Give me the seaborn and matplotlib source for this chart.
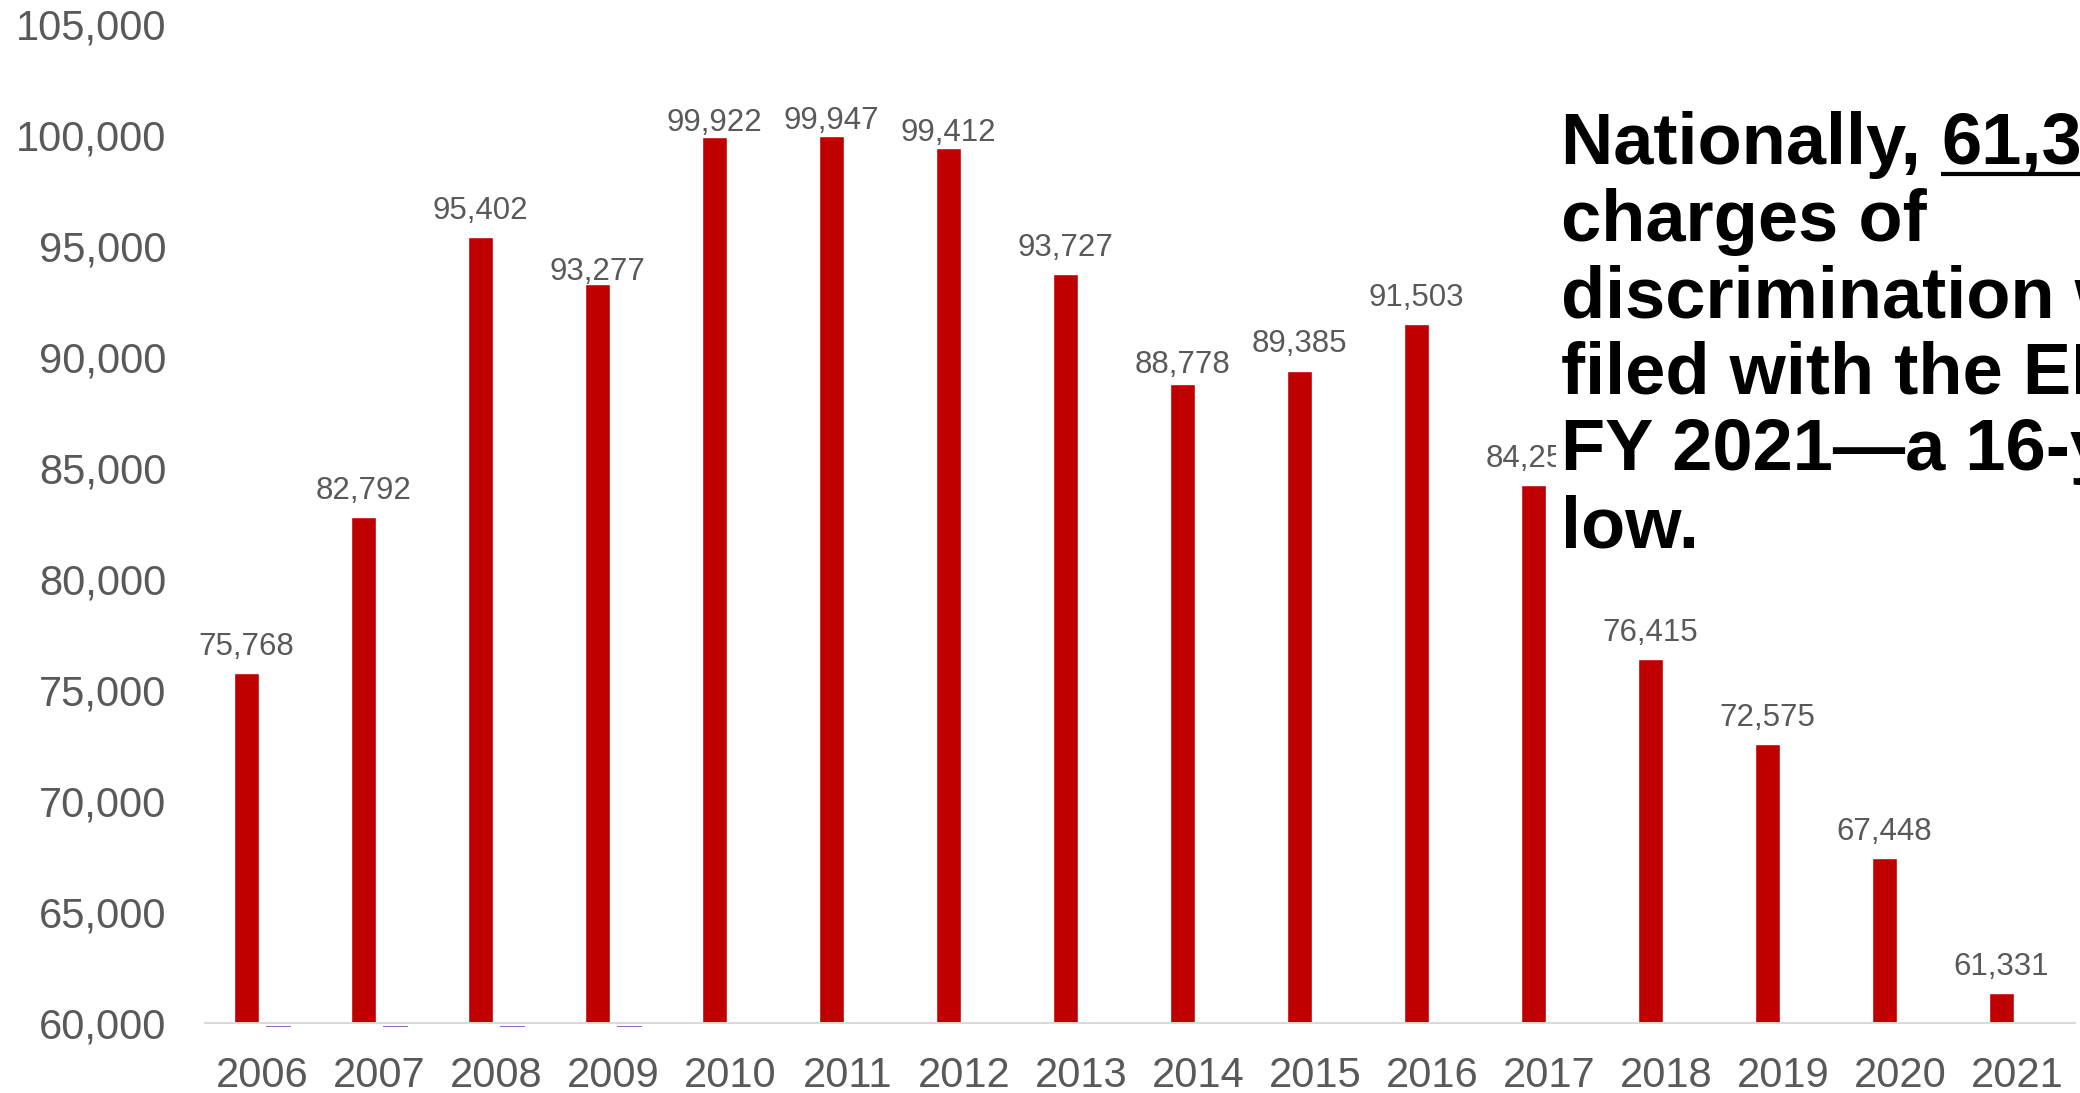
import matplotlib
matplotlib.use("Agg")
import matplotlib.pyplot as plt
import seaborn as sns
import pandas as pd
import numpy as np
from matplotlib.patches import Rectangle

# ---------------- data ----------------
years = ["2006", "2007", "2008", "2009", "2010", "2011", "2012", "2013",
         "2014", "2015", "2016", "2017", "2018", "2019", "2020", "2021"]
charges = [75768, 82792, 95402, 93277, 99922, 99947, 99412, 93727,
           88778, 89385, 91503, 84254, 76415, 72575, 67448, 61331]
# second (purple) series: only visible as a sliver at the axis floor, 2006-2009
second = [59870, 59870, 59870, 59870] + [np.nan] * 12
series_names = ["Charges", "Other"]
yticks = list(range(60000, 105001, 5000))
headline_lines = ["charges of", "discrimination were", "filed with the EEOC in",
                  "FY 2021\u2014a 16-year", "low."]
headline_first = "Nationally, "
headline_num = "61,331"

# style: gap (px) between bar top and data-label baseline, as placed in the original
label_gap_px = [18, 18, 18, 4, 6, 7, 7.5, 18, 11, 19, 18, 18, 18, 18, 18, 18]

RED = "#C00000"
PURPLE = "#A062C2"
GREY = "#595959"

df = pd.DataFrame({
    "year": years * 2,
    "value": charges + second,
    "series": [series_names[0]] * len(years) + [series_names[1]] * len(years),
})

sns.set_theme(style="white")
plt.rcParams["font.family"] = ["Liberation Sans", "DejaVu Sans"]

W, H = 2080, 1093
fig = plt.figure(figsize=(W / 100, H / 100), dpi=100)
ax = fig.add_axes([204 / W, 1 - 1027 / H, (2076 - 204) / W, (1027 - 24) / H])

sns.barplot(data=df, x="year", y="value", hue="series", order=years,
            hue_order=series_names, palette=[RED, PURPLE], width=0.55, gap=0.2,
            dodge=True, legend=False, errorbar=None, ax=ax, saturation=1)

ax.set_ylim(59820, 105000)
ax.set_xlim(-0.5, len(years) - 0.5)

# hide the part of red bars below the axis floor; keep purple sliver on top
ax.axhspan(59820, 60000, color="white", zorder=2, lw=0)
for p in ax.containers[1]:
    p.set_zorder(3)
    p.set_linewidth(0)
ax.axhline(60000, color="#D9D9D9", lw=1.4, zorder=2.5)

# data labels above the red bars
for patch, val, gap in zip(ax.containers[0], charges, label_gap_px):
    xc = patch.get_x() + patch.get_width() / 2
    ytop = patch.get_y() + patch.get_height()
    ax.annotate(f"{val:,}", xy=(xc, ytop), xytext=(0, gap * 0.72),
                textcoords="offset points", ha="center", va="baseline",
                fontsize=22.5, color=GREY)

ax.set_yticks(yticks)
ax.set_yticklabels([f"{t:,}" for t in yticks])
ax.tick_params(axis="y", length=0, pad=27, labelsize=30, labelcolor=GREY)
ax.tick_params(axis="x", length=0, pad=21, labelsize=30, labelcolor=GREY)
ax.set_xlabel("")
ax.set_ylabel("")
for s in ax.spines.values():
    s.set_visible(False)

# ---------------- headline box ----------------
fig.patches.append(Rectangle((1556 / W, 1 - 580 / H), 1 - 1556 / W, 520 / H,
                             transform=fig.transFigure, facecolor="white",
                             edgecolor="none", zorder=10))
fs = 52
x0 = 1561 / W
base0 = 164
step = 76.6
t1 = fig.text(x0, 1 - base0 / H, headline_first, fontsize=fs, fontweight="bold",
              color="black", va="baseline", ha="left", zorder=11)
fig.canvas.draw()
r = fig.canvas.get_renderer()
bb = t1.get_window_extent(r)
xnum = bb.x1 / W
t2 = fig.text(xnum, 1 - base0 / H, headline_num, fontsize=fs, fontweight="bold",
              color="black", va="baseline", ha="left", zorder=11)
bb2 = t2.get_window_extent(r)
fig.add_artist(plt.Line2D([bb2.x0 / W, bb2.x1 / W], [1 - (base0 + 10) / H] * 2,
                          transform=fig.transFigure, color="black", lw=3,
                          zorder=11, solid_capstyle="butt"))
for i, line in enumerate(headline_lines, start=1):
    fig.text(x0, 1 - (base0 + step * i) / H, line, fontsize=fs, fontweight="bold",
             color="black", va="baseline", ha="left", zorder=11)

fig.savefig("out.png", dpi=100)
